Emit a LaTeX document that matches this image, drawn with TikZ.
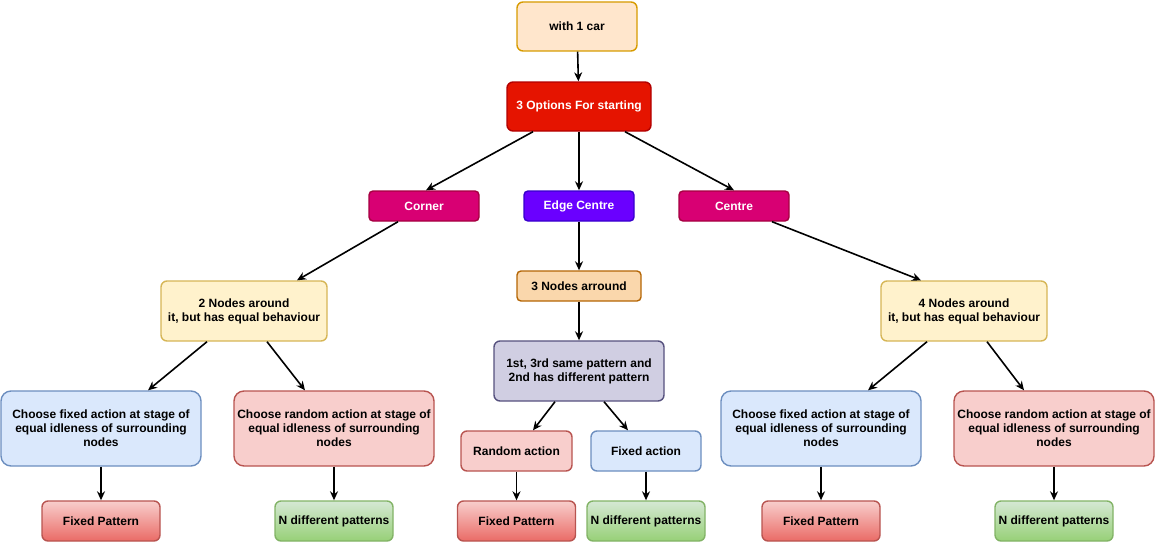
\documentclass[tikz,border=0pt]{standalone}
\usepackage{fontspec}
\setmainfont{Liberation Sans}
\usetikzlibrary{arrows.meta}

\definecolor{carfill}{HTML}{FFE6CC}
\definecolor{cardraw}{HTML}{D79B00}
\definecolor{optfill}{HTML}{E51400}
\definecolor{optdraw}{HTML}{B20000}
\definecolor{magfill}{HTML}{D80073}
\definecolor{magdraw}{HTML}{A50040}
\definecolor{purfill}{HTML}{6A00FF}
\definecolor{purdraw}{HTML}{3700CC}
\definecolor{orfill}{HTML}{FAD7AC}
\definecolor{ordraw}{HTML}{B46504}
\definecolor{yelfill}{HTML}{FFF2CC}
\definecolor{yeldraw}{HTML}{D6B656}
\definecolor{lilfill}{HTML}{D0CEE2}
\definecolor{lildraw}{HTML}{56517E}
\definecolor{bluefill}{HTML}{DAE8FC}
\definecolor{bluedraw}{HTML}{6C8EBF}
\definecolor{redfill}{HTML}{F8CECC}
\definecolor{reddraw}{HTML}{B85450}
\definecolor{redgrad}{HTML}{EA6B66}
\definecolor{grnfill}{HTML}{D5E8D4}
\definecolor{grngrad}{HTML}{97D077}
\definecolor{grndraw}{HTML}{82B366}

\tikzset{
  box/.style={rectangle,draw,line width=1.4pt,rounded corners=6pt,inner sep=0pt,
    align=center,font=\bfseries\fontsize{12}{14}\selectfont},
  big/.style={box,rounded corners=10pt,minimum width=200pt,minimum height=75pt},
  small/.style={box,rounded corners=4pt,minimum width=110pt,minimum height=30pt},
  fixedpat/.style={box,minimum width=118pt,minimum height=40pt,draw=reddraw,
    top color=redfill,bottom color=redgrad},
  npat/.style={box,minimum width=118pt,minimum height=40pt,draw=grndraw,
    top color=grnfill,bottom color=grngrad},
  arr/.style={-{Stealth[length=9pt,width=8pt]},line width=1.6pt}
}

\begin{document}
\begin{tikzpicture}[x=1pt,y=-1pt]
\useasboundingbox (0,0) rectangle (1155,543);

\node[box,fill=carfill,draw=cardraw,minimum width=120pt,minimum height=49pt] (car) at (577,26.5) {with 1 car};
\node[box,fill=optfill,draw=optdraw,text=white,minimum width=144pt,minimum height=49pt] (opts) at (579,106.5) {3 Options For starting};

\node[small,fill=magfill,draw=magdraw,text=white] (corner) at (424,206) {Corner};
\node[small,fill=purfill,draw=purdraw,text=white] (edgec) at (579,206) {Edge Centre};
\node[small,fill=magfill,draw=magdraw,text=white] (centre) at (734,206) {Centre};

\node[box,fill=yelfill,draw=yeldraw,minimum width=166pt,minimum height=60pt] (two) at (244,311) {2 Nodes around\\it, but has equal behaviour};
\node[small,fill=orfill,draw=ordraw,minimum width=124pt] (three) at (579,286) {3 Nodes arround};
\node[box,fill=yelfill,draw=yeldraw,minimum width=166pt,minimum height=60pt] (four) at (964,311) {4 Nodes around\\it, but has equal behaviour};

\node[box,fill=lilfill,draw=lildraw,minimum width=170pt,minimum height=60pt] (same) at (579,371) {1st, 3rd same pattern and\\2nd has different pattern};

\node[big,fill=bluefill,draw=bluedraw] (lfix) at (101,428.5) {Choose fixed action at stage of\\equal idleness of surrounding\\nodes};
\node[big,fill=redfill,draw=reddraw] (lrand) at (334,428.5) {Choose random action at stage of\\equal idleness of surrounding\\nodes};
\node[big,fill=bluefill,draw=bluedraw] (rfix) at (821,428.5) {Choose fixed action at stage of\\equal idleness of surrounding\\nodes};
\node[big,fill=redfill,draw=reddraw] (rrand) at (1054,428.5) {Choose random action at stage of\\equal idleness of surrounding\\nodes};

\node[box,fill=redfill,draw=reddraw,minimum width=111pt,minimum height=40pt] (mrand) at (516.5,451) {Random action};
\node[box,fill=bluefill,draw=bluedraw,minimum width=110pt,minimum height=40pt] (mfix) at (646,451) {Fixed action};

\node[fixedpat] (lfp) at (101,521) {Fixed Pattern};
\node[npat] (lnp) at (334,521) {N different patterns};
\node[fixedpat] (mfp) at (516.5,521) {Fixed Pattern};
\node[npat] (mnp) at (646,521) {N different patterns};
\node[fixedpat] (rfp) at (821,521) {Fixed Pattern};
\node[npat] (rnp) at (1054,521) {N different patterns};

\path [arr] (car) edge (opts);
\path [arr] ([xshift=-46pt]opts.south) edge ([xshift=2pt]corner.north);
\path [arr] (opts) edge (edgec);
\path [arr] ([xshift=46pt]opts.south) edge (centre.north);
\path [arr] ([xshift=-26pt]corner.south) edge ([xshift=53pt]two.north);
\path [arr] (edgec) edge (three);
\path [arr] ([xshift=38pt]centre.south) edge ([xshift=-43pt]four.north);
\path [arr] (three) edge (same);
\path [arr] ([xshift=-37pt]two.south) edge ([xshift=47pt]lfix.north);
\path [arr] ([xshift=23pt]two.south) edge ([xshift=-29pt]lrand.north);
\path [arr] ([xshift=-37pt]four.south) edge ([xshift=47pt]rfix.north);
\path [arr] ([xshift=23pt]four.south) edge ([xshift=-30pt]rrand.north);
\path [arr] ([xshift=-24pt]same.south) edge ([xshift=16.5pt]mrand.north);
\path [arr] ([xshift=25pt]same.south) edge ([xshift=-18pt]mfix.north);
\path [arr] (lfix) edge (lfp);
\path [arr] (lrand) edge (lnp);
\path [arr] (mrand) edge (mfp);
\path [arr] (mfix) edge (mnp);
\path [arr] (rfix) edge (rfp);
\path [arr] (rrand) edge (rnp);
\end{tikzpicture}
\end{document}
